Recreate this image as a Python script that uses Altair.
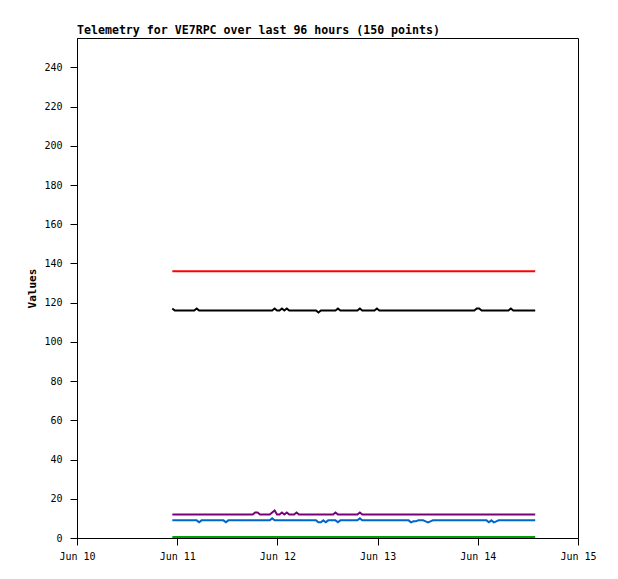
import altair as alt
import pandas as pd

# sample times (UTC): 150 points, ~35 min apart
start_time = "2024-06-10T22:50:00Z"
step_minutes = 35
n_points = 150

red_vals = [136] * 150

black_vals = [
    117, 116, 116, 116, 116, 116, 116, 116, 116, 116,
    117, 116, 116, 116, 116, 116, 116, 116, 116, 116,
    116, 116, 116, 116, 116, 116, 116, 116, 116, 116,
    116, 116, 116, 116, 116, 116, 116, 116, 116, 116,
    116, 116, 117, 116, 116, 117, 116, 117, 116, 116,
    116, 116, 116, 116, 116, 116, 116, 116, 116, 116,
    115, 116, 116, 116, 116, 116, 116, 116, 117, 116,
    116, 116, 116, 116, 116, 116, 116, 117, 116, 116,
    116, 116, 116, 116, 117, 116, 116, 116, 116, 116,
    116, 116, 116, 116, 116, 116, 116, 116, 116, 116,
    116, 116, 116, 116, 116, 116, 116, 116, 116, 116,
    116, 116, 116, 116, 116, 116, 116, 116, 116, 116,
    116, 116, 116, 116, 116, 117, 117, 116, 116, 116,
    116, 116, 116, 116, 116, 116, 116, 116, 116, 117,
    116, 116, 116, 116, 116, 116, 116, 116, 116, 116,
]

purple_vals = [
    12, 12, 12, 12, 12, 12, 12, 12, 12, 12,
    12, 12, 12, 12, 12, 12, 12, 12, 12, 12,
    12, 12, 12, 12, 12, 12, 12, 12, 12, 12,
    12, 12, 12, 12, 13, 13, 12, 12, 12, 12,
    12, 13, 14, 12, 12, 13, 12, 13, 12, 12,
    12, 13, 12, 12, 12, 12, 12, 12, 12, 12,
    12, 12, 12, 12, 12, 12, 12, 13, 12, 12,
    12, 12, 12, 12, 12, 12, 12, 13, 12, 12,
    12, 12, 12, 12, 12, 12, 12, 12, 12, 12,
    12, 12, 12, 12, 12, 12, 12, 12, 12, 12,
    12, 12, 12, 12, 12, 12, 12, 12, 12, 12,
    12, 12, 12, 12, 12, 12, 12, 12, 12, 12,
    12, 12, 12, 12, 12, 12, 12, 12, 12, 12,
    12, 12, 12, 12, 12, 12, 12, 12, 12, 12,
    12, 12, 12, 12, 12, 12, 12, 12, 12, 12,
]

blue_vals = [
    9, 9, 9, 9, 9, 9, 9, 9, 9, 9,
    9, 8, 9, 9, 9, 9, 9, 9, 9, 9,
    9, 9, 8, 9, 9, 9, 9, 9, 9, 9,
    9, 9, 9, 9, 9, 9, 9, 9, 9, 9,
    9, 10, 9, 9, 9, 9, 9, 9, 9, 9,
    9, 9, 9, 9, 9, 9, 9, 9, 9, 9,
    8, 8, 9, 8, 9, 9, 9, 9, 8, 9,
    9, 9, 9, 9, 9, 9, 9, 10, 9, 9,
    9, 9, 9, 9, 9, 9, 9, 9, 9, 9,
    9, 9, 9, 9, 9, 9, 9, 9, 8, 8.5,
    8.5, 9, 9, 9, 8.5, 8, 8.5, 9, 9, 9,
    9, 9, 9, 9, 9, 9, 9, 9, 9, 9,
    9, 9, 9, 9, 9, 9, 9, 9, 9, 9,
    8, 9, 8, 8.5, 9, 9, 9, 9, 9, 9,
    9, 9, 9, 9, 9, 9, 9, 9, 9, 9,
]

green_vals = [0.5] * 150

series_names = ["red", "black", "purple", "blue", "green"]
series_colors = ["#ff0000", "#000000", "#7a007a", "#0066cc", "#00a000"]
series_values = [red_vals, black_vals, purple_vals, blue_vals, green_vals]

times = pd.date_range(start=start_time, periods=n_points, freq=f"{step_minutes}min")
time_str = [t.strftime("%Y-%m-%dT%H:%M:%SZ") for t in times]

rows = []
for name, vals in zip(series_names, series_values):
    for t, v in zip(time_str, vals):
        rows.append({"time": t, "value": v, "series": name})
df = pd.DataFrame(rows)

tick_days = [alt.DateTime(year=2024, month=6, date=d, utc=True) for d in range(10, 16)]

FONT = "DejaVu Sans Mono"

chart = alt.Chart(df).mark_line(strokeWidth=2, interpolate="linear").encode(
    x=alt.X(
        "time:T",
        scale=alt.Scale(
            type="utc",
            domain=[alt.DateTime(year=2024, month=6, date=10, utc=True),
                    alt.DateTime(year=2024, month=6, date=15, utc=True)],
        ),
        axis=alt.Axis(
            values=tick_days, labelExpr="utcFormat(datum.value, '%b %d')", title=None,
            grid=False, tickSize=7, labelPadding=6, domainColor="#000",
            tickColor="#000", labelColor="#000", labelFont=FONT, labelFontSize=10,
            labelFlush=False,
        ),
    ),
    y=alt.Y(
        "value:Q",
        scale=alt.Scale(domain=[0, 255], nice=False),
        axis=alt.Axis(
            values=list(range(0, 241, 20)), title="Values", grid=False,
            tickSize=7, labelPadding=8, domainColor="#000", tickColor="#000",
            labelColor="#000", labelFont=FONT, labelFontSize=10,
            titleFont=FONT, titleFontSize=11, titleFontWeight="bold",
            titleColor="#000", titlePadding=6,
        ),
    ),
    color=alt.Color("series:N", scale=alt.Scale(domain=series_names, range=series_colors), legend=None),
    detail="series:N",
).properties(
    width=501,
    height=500,
    title=alt.TitleParams(
        "Telemetry for VE7RPC over last 96 hours (150 points)",
        anchor="start", frame="group", font=FONT, fontSize=11.6, fontWeight="bold",
        color="#000", offset=1,
    ),
    autosize=alt.AutoSizeParams(type="none"),
    padding={"left": 69, "top": 30, "right": 32, "bottom": 33},
).configure_view(stroke="#000", strokeWidth=1)

chart.save("out.html", embed_options={"renderer": "svg", "actions": False})
